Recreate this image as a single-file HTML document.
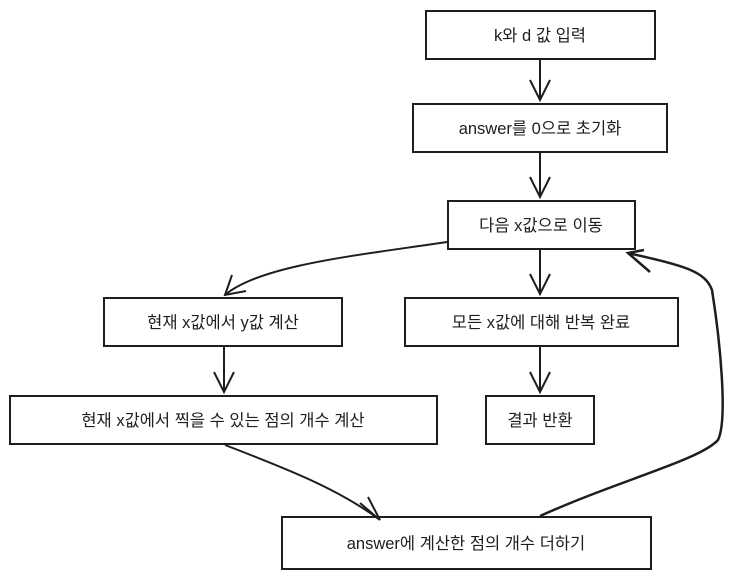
<!DOCTYPE html>
<html><head><meta charset="utf-8"><style>
html,body{margin:0;padding:0;background:#fff;width:738px;height:582px;overflow:hidden}
text{font-family:"Liberation Sans","Noto Sans CJK KR",sans-serif;font-size:16.5px;fill:#1e1e1e}
</style></head><body>
<svg width="738" height="582" viewBox="0 0 738 582" xmlns="http://www.w3.org/2000/svg">
<g fill="none" stroke="#1e1e1e" stroke-width="2">
<rect x="426" y="11" width="229" height="48"/>
<rect x="413" y="104" width="254" height="48"/>
<rect x="448" y="201" width="187" height="48"/>
<rect x="104" y="298" width="238" height="48"/>
<rect x="405" y="298" width="273" height="48"/>
<rect x="10" y="396" width="427" height="48"/>
<rect x="486" y="396" width="108" height="48"/>
<rect x="282" y="517" width="369" height="52"/>
<path d="M540 60 L540 100 M530 80 L540 100 L550 80"/>
<path d="M540 153 L540 197 M530 177 L540 197 L550 177"/>
<path d="M540 250 L540 294 M530 274 L540 294 L550 274"/>
<path d="M540 347 L540 392 M530 372 L540 392 L550 372"/>
<path d="M224 347 L224 392 M214 372 L224 392 L234 372"/>
<path d="M447 242 C360 255 260 265 225 295 M232 275 L225 295 L246 291"/>
<path d="M225 445 C290 470 340 490 380 520 M360 503 L380 520 L368 497"/>
<path d="M540 516 C620 480 700 460 718 440 C728 420 720 340 712 290 C705 270 680 265 628 253 M650 272 L628 253 L644 250" stroke-width="2.5"/>
</g>
<g text-anchor="middle">
<text x="540" y="41">k와 d 값 입력</text>
<text x="540" y="134">answer를 0으로 초기화</text>
<text x="541" y="231">다음 x값으로 이동</text>
<text x="223" y="328">현재 x값에서 y값 계산</text>
<text x="541" y="328">모든 x값에 대해 반복 완료</text>
<text x="223" y="426">현재 x값에서 찍을 수 있는 점의 개수 계산</text>
<text x="540" y="426">결과 반환</text>
<text x="466" y="549">answer에 계산한 점의 개수 더하기</text>
</g>
</svg>
</body></html>
